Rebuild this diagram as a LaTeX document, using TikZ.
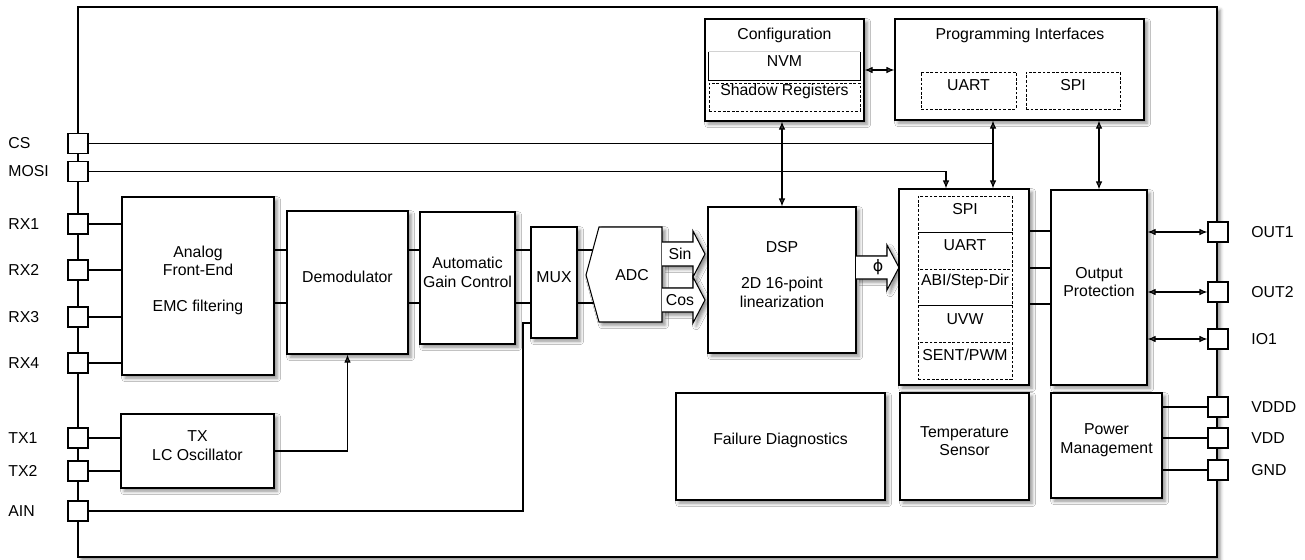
\documentclass[tikz,border=0pt]{standalone}
\usepackage{fontspec}
\setmainfont{Liberation Sans}
\newfontfamily\symfont{DejaVu Sans}
\usetikzlibrary{fit,arrows.meta,shadows.blur}

\begin{document}
\begin{tikzpicture}[x=0.2mm,y=-0.2mm,
  font=\fontsize{9}{10.5}\selectfont,
  every node/.style={inner sep=0pt},
  shade box/.style={blur shadow={shadow xshift=1.8pt,shadow yshift=-1.8pt,shadow blur radius=2pt,shadow opacity=45}},
  blk/.style={draw,fill=white,line width=0.6pt,align=center,inner sep=0pt,shade box},
  sub/.style={draw,dash pattern=on 1.6pt off 1pt,line width=0.5pt,fill=white,inner sep=0pt,align=center},
  pad/.style={draw,fill=white,line width=0.6pt,minimum size=4mm,inner sep=0pt},
  wire/.style={line width=0.6pt},
  tip/.style={-{Latex[length=1.6mm,width=1.3mm]}},
  tips/.style={{Latex[length=1.6mm,width=1.3mm]}-{Latex[length=1.6mm,width=1.3mm]}}]
  \useasboundingbox (0,0) rectangle (1305,559);

  % chip outline and pins
  \node[draw,fill=white,line width=0.9pt,shade box,fit={(78,7)(1217,557)}] (chip) {};
  \foreach \nm/\y in {CS/143.5,MOSI/171.5,RX1/224,RX2/270,RX3/317,RX4/363,TX1/438,TX2/471,AIN/511}
	{
	\node[pad] (p\nm) at (78,\y) {};
	\node[anchor=west] (l\nm) at (8,\y) {\nm};
	}
  \foreach \nm/\y in {OUT1/232,OUT2/292,IO1/339,VDDD/407,VDD/438,GND/470}
	{
	\node[pad] (p\nm) at (1218,\y) {};
	\node[anchor=west] (l\nm) at (1251,\y) {\nm};
	}

  % signal chain
  \node[blk,fit={(122,197)(274,375)}] (afe) {Analog\\Front-End\\[10pt]EMC filtering};
  \node[blk,fit={(287,211)(408,354)}] (dem) {Demodulator};
  \node[blk,fit={(420,212)(515,344)}] (agc) {Automatic\\Gain Control};
  \node[blk,fit={(531,227)(577,338)}] (mux) {MUX};
  \node[blk,fit={(121,414)(274,488)}] (tx) {TX\\LC Oscillator};

  \coordinate (chA) at (0,250);
  \coordinate (chB) at (0,303);
  \coordinate (adcC) at (624,275);
  \foreach \c in {chA,chB}
	{
	\draw[wire] (afe.east |- \c) -- (dem.west |- \c);
	\draw[wire] (dem.east |- \c) -- (agc.west |- \c);
	\draw[wire] (agc.east |- \c) -- (mux.west |- \c);
	\draw[wire] (mux.east |- \c) -- (adcC |- \c);
	}
  \draw[blk] (586,275) -- (599,227) -- (662,227) -- (662,322) -- (599,322) -- cycle;
  \node (adc) at (632,275) {ADC};
  \foreach \nm/\y in {Sin/254,Cos/300}
	{
	\draw[blk] (662,\y-12) -- (693,\y-12) -- (693,\y-23) -- (705,\y) -- (693,\y+23) -- (693,\y+12) -- (662,\y+12);
	\node (s\nm) at (680,\y) {\nm};
	}

  \node[blk,fit={(708,207)(856,353)}] (dsp) {DSP\\[10pt]2D 16-point\\linearization};
  \draw[blk] (856,256) -- (887,256) -- (887,245) -- (899,267.5) -- (887,290) -- (887,279) -- (856,279);
  \node (phi) at (878,267) {\symfont ϕ};

  % output side
  \node[blk,fit={(899,189)(1029,385)}] (intf) {};
  \foreach \txt [count=\i] in {SPI,UART,ABI/Step-Dir,UVW,SENT/PWM}
	\node[sub,fit={(918,159.4+36.6*\i)(1012,196+36.6*\i)}] (if\i) {\txt};
  \node[blk,fit={(1051,190)(1147,385)}] (op) {Output\\Protection};
  \node[blk,fit={(676,393)(885,500)}] (fd) {Failure Diagnostics};
  \node[blk,fit={(900,393)(1029,500)}] (ts) {Temperature\\Sensor};
  \node[blk,fit={(1051,393)(1162,498)}] (pm) {Power\\Management};

  % configuration and programming
  \node[blk,fit={(705,19)(864,121)}] (cfg) {};
  \node (cfgT) at (784.5,35) {Configuration};
  \node[fit={(709,52)(860,80)}] (nvm) {NVM};
  \draw[gray!35] (nvm.north west) -- (nvm.north east);
  \draw[wire] (nvm.north west) -- (nvm.south west) -- (nvm.south east) -- (nvm.north east);
  \node[sub,fit={(709,83)(860,111)}] (shreg) {Shadow Registers};
  \node[blk,fit={(895,19)(1144,120)}] (prog) {};
  \node (progT) at (1020,35) {Programming Interfaces};
  \node[sub,fit={(921,72)(1016,109)}] (puart) {UART};
  \node[sub,fit={(1026,72)(1120,109)}] (pspi) {SPI};

  % connections
  \foreach \nm in {RX1,RX2,RX3,RX4}
	\draw[wire] (p\nm) -- (p\nm -| afe.west);
  \foreach \nm in {TX1,TX2}
	\draw[wire] (p\nm) -- (p\nm -| tx.west);
  \draw[wire,tip] (tx.east) -| (dem.south);
  \coordinate (ainK) at (523,323);
  \draw[wire] (pAIN) -| (ainK) -- (ainK -| mux.west);
  \coordinate (csK) at (993,0);
  \coordinate (mosiK) at (946,0);
  \draw[wire] (pCS) -- (pCS -| csK);
  \draw[wire,tips] (prog.south -| csK) -- (intf.north -| csK);
  \draw[wire,tip] (pMOSI) -| (intf.north -| mosiK);
  \draw[wire,tips] (cfg.south -| dsp.north) -- (dsp.north);
  \draw[wire,tips] (cfg.east) -- (cfg.east -| prog.west);
  \draw[wire,tips] (prog.south -| op.north) -- (op.north);
  \foreach \y in {231,268,304}
	\draw[wire] (intf.east |- 0,\y) -- (op.west |- 0,\y);
  \foreach \nm in {OUT1,OUT2,IO1}
	\draw[wire,tips] (op.east |- p\nm) -- (p\nm);
  \foreach \nm in {VDDD,VDD,GND}
	\draw[wire] (pm.east |- p\nm) -- (p\nm);
\end{tikzpicture}
\end{document}
